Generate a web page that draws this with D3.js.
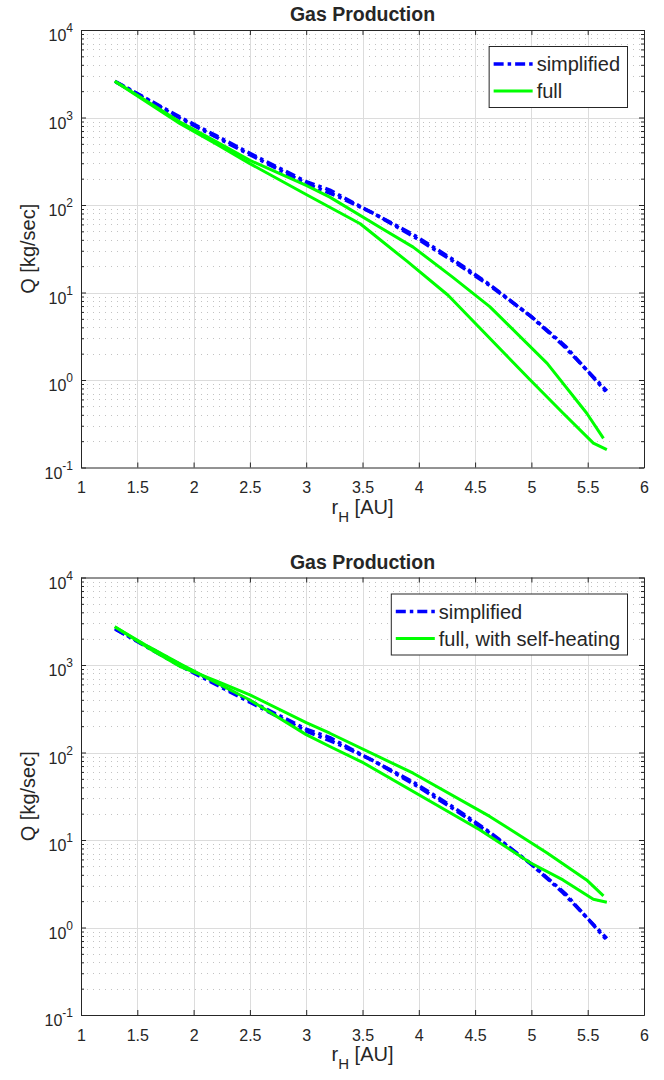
<!DOCTYPE html>
<html><head><meta charset="utf-8">
<script src="https://cdn.jsdelivr.net/npm/d3@7/dist/d3.min.js"></script>
<style>
body{margin:0;background:#fff;}
text{font-family:"Liberation Sans",Arial,Helvetica,sans-serif;fill:#262626;}
</style>
</head><body>
<svg id="chart" width="664" height="1080"></svg>
<script>
// ---------- data ----------
const titleText = "Gas Production";
const xLabelMain = "r", xLabelSub = "H", xLabelTail = " [AU]";
const yLabelText = "Q [kg/sec]";
const xTickValues = [1, 1.5, 2, 2.5, 3, 3.5, 4, 4.5, 5, 5.5, 6];
const xTickLabels = ["1", "1.5", "2", "2.5", "3", "3.5", "4", "4.5", "5", "5.5", "6"];
const yTickExponents = [-1, 0, 1, 2, 3, 4];

// simplified model (two nearly coincident branches), same in both panels
const simpA_r = [1.30, 1.50, 1.88, 2.20, 2.50, 3.00, 3.21, 3.51, 3.95, 4.30, 4.63, 4.99, 5.28, 5.67];
const simpA_Q = [2600, 1880, 1010, 620, 390, 185, 148, 92, 46, 24, 12.3, 5.4, 2.5, 0.75];
const simpB_r = [1.31, 1.88, 2.50, 3.00, 3.30, 3.60, 3.95, 4.30, 4.63, 5.00, 5.30, 5.66];
const simpB_Q = [2550, 980, 375, 176, 122, 80, 44, 23, 12.0, 5.3, 2.45, 0.74];

// top panel: full model
const fullTopUp_r = [1.30, 1.60, 1.88, 2.20, 2.50, 3.00, 3.21, 3.65, 3.95, 4.30, 4.63, 5.14, 5.49, 5.64];
const fullTopUp_Q = [2600, 1490, 885, 530, 324, 168, 123, 56, 33, 15, 6.9, 1.55, 0.42, 0.215];
const fullTopLo_r = [1.30, 1.60, 1.88, 2.20, 2.50, 3.00, 3.48, 3.90, 4.26, 4.99, 5.28, 5.55, 5.67];
const fullTopLo_Q = [2600, 1460, 850, 500, 297, 132, 61, 22.5, 9.3, 1.0, 0.42, 0.19, 0.16];

// bottom panel: full model with self-heating
const fullBotUp_r = [1.30, 1.60, 1.88, 2.20, 2.50, 3.00, 3.21, 3.95, 4.63, 5.14, 5.49, 5.64];
const fullBotUp_Q = [2740, 1560, 960, 660, 456, 220, 166, 58, 18.6, 7.1, 3.5, 2.3];
const fullBotLo_r = [1.30, 1.60, 1.88, 2.20, 2.50, 3.00, 3.21, 3.51, 4.54, 4.99, 5.28, 5.55, 5.67];
const fullBotLo_Q = [2740, 1620, 1030, 630, 398, 160, 117, 76, 13.1, 5.5, 3.5, 2.1, 1.94];

const legendTopLabels = ["simplified", "full"];
const legendBotLabels = ["simplified", "full, with self-heating"];

// ---------- drawing ----------
const svg = d3.select("#chart");
const plotLeft = 81, plotRight = 644;
const BLUE = "#0000ff", GREEN = "#00ff00", AXC = "#262626";
const DASHDOT = "10,4,3.5,4";

const zip = (r, q) => r.map((v, i) => [v, q[i]]);

const panels = [
  { top: 30, bottom: 467.5,
    series: [
      { data: zip(simpA_r, simpA_Q), color: BLUE, dash: DASHDOT },
      { data: zip(simpB_r, simpB_Q), color: BLUE, dash: DASHDOT },
      { data: zip(fullTopUp_r, fullTopUp_Q), color: GREEN, dash: null },
      { data: zip(fullTopLo_r, fullTopLo_Q), color: GREEN, dash: null }
    ],
    legend: legendTopLabels },
  { top: 577.5, bottom: 1015,
    series: [
      { data: zip(simpA_r, simpA_Q), color: BLUE, dash: DASHDOT },
      { data: zip(simpB_r, simpB_Q), color: BLUE, dash: DASHDOT },
      { data: zip(fullBotUp_r, fullBotUp_Q), color: GREEN, dash: null },
      { data: zip(fullBotLo_r, fullBotLo_Q), color: GREEN, dash: null }
    ],
    legend: legendBotLabels }
];

const minorVals = [];
yTickExponents.slice(0, -1).forEach(e => { for (let m = 2; m <= 9; m++) minorVals.push(m * Math.pow(10, e)); });
const decades = yTickExponents.map(e => Math.pow(10, e));

panels.forEach((p, idx) => {
  const x = d3.scaleLinear().domain([1, 6]).range([plotLeft, plotRight]);
  const y = d3.scaleLog().domain([0.1, 10000]).range([p.bottom, p.top]);
  const g = svg.append("g");

  // clip
  const clipId = "clip" + idx;
  g.append("clipPath").attr("id", clipId).append("rect")
    .attr("x", plotLeft).attr("y", p.top).attr("width", plotRight - plotLeft).attr("height", p.bottom - p.top);

  // minor grid (dotted)
  g.append("g").selectAll("line").data(minorVals).join("line")
    .attr("x1", plotLeft).attr("x2", plotRight)
    .attr("y1", d => Math.round(y(d)) + 0.5).attr("y2", d => Math.round(y(d)) + 0.5)
    .attr("stroke", "#c2c2c2").attr("stroke-width", 1).attr("stroke-dasharray", "1,5");

  // major grid
  g.append("g").selectAll("line").data(xTickValues.slice(1, -1)).join("line")
    .attr("x1", d => Math.round(x(d)) + 0.5).attr("x2", d => Math.round(x(d)) + 0.5)
    .attr("y1", p.top).attr("y2", p.bottom)
    .attr("stroke", "#dcdcdc").attr("stroke-width", 1);
  g.append("g").selectAll("line").data(decades.slice(1, -1)).join("line")
    .attr("x1", plotLeft).attr("x2", plotRight)
    .attr("y1", d => Math.round(y(d)) + 0.5).attr("y2", d => Math.round(y(d)) + 0.5)
    .attr("stroke", "#dcdcdc").attr("stroke-width", 1);

  // data lines
  const line = d3.line().x(d => x(d[0])).y(d => y(d[1]));
  const lg = g.append("g").attr("clip-path", `url(#${clipId})`);
  p.series.forEach(s => {
    lg.append("path").datum(s.data).attr("d", line)
      .attr("fill", "none").attr("stroke", s.color)
      .attr("stroke-width", s.dash ? 3.5 : 3)
      .attr("stroke-linejoin", "round")
      .attr("stroke-dasharray", s.dash);
  });

  // axes
  const styleAxis = sel => {
    sel.selectAll("path,line").attr("stroke", AXC).attr("stroke-width", 1);
    sel.selectAll("text").attr("fill", AXC);
  };
  // bottom
  const xb = g.append("g").attr("transform", `translate(0,${p.bottom})`)
    .call(d3.axisBottom(x).tickValues(xTickValues).tickFormat((d, i) => xTickLabels[i]).tickSize(-5).tickSizeOuter(0).tickPadding(0));
  styleAxis(xb);
  xb.selectAll("text").attr("y", 25.5).attr("dy", null).attr("font-size", 16).attr("font-family", null);
  // top
  const xt = g.append("g").attr("transform", `translate(0,${p.top})`)
    .call(d3.axisTop(x).tickValues(xTickValues).tickFormat("").tickSize(-5).tickSizeOuter(0));
  styleAxis(xt);
  // left major
  const yl = g.append("g").attr("transform", `translate(${plotLeft},0)`)
    .call(d3.axisLeft(y).tickValues(decades).tickFormat(() => "").tickSize(-5).tickSizeOuter(0));
  styleAxis(yl);
  yl.selectAll(".tick text").each(function(d) {
    const t = d3.select(this);
    const e = Math.round(Math.log10(d));
    t.text(null).attr("x", -8).attr("y", 10.5).attr("dy", null)
      .attr("text-anchor", "end").attr("font-size", 16).attr("font-family", null);
    t.append("tspan").text("10");
    t.append("tspan").attr("dy", -9).attr("font-size", 12).text(String(e));
  });
  // left minor
  const ylm = g.append("g").attr("transform", `translate(${plotLeft},0)`)
    .call(d3.axisLeft(y).tickValues(minorVals).tickFormat(() => "").tickSize(-3).tickSizeOuter(0));
  styleAxis(ylm);
  // right
  const yr = g.append("g").attr("transform", `translate(${plotRight},0)`)
    .call(d3.axisRight(y).tickValues(decades).tickFormat(() => "").tickSize(-5).tickSizeOuter(0));
  styleAxis(yr);
  const yrm = g.append("g").attr("transform", `translate(${plotRight},0)`)
    .call(d3.axisRight(y).tickValues(minorVals).tickFormat(() => "").tickSize(-3).tickSizeOuter(0));
  styleAxis(yrm);

  // title
  g.append("text").attr("x", (plotLeft + plotRight) / 2).attr("y", p.top - 9)
    .attr("text-anchor", "middle").attr("font-size", 19.5).attr("font-weight", "bold")
    .attr("fill", "#000").text(titleText);

  // x label
  const xl = g.append("text").attr("x", (plotLeft + plotRight) / 2).attr("y", p.bottom + 46)
    .attr("text-anchor", "middle").attr("font-size", 20);
  xl.append("tspan").text(xLabelMain);
  xl.append("tspan").attr("dy", 8).attr("font-size", 15).text(xLabelSub);
  xl.append("tspan").attr("dy", -8).text(xLabelTail);

  // y label
  g.append("text").attr("transform", `translate(28,${(p.top + p.bottom) / 2}) rotate(-90)`)
    .attr("text-anchor", "middle").attr("dy", "0.35em").attr("font-size", 20).text(yLabelText);

  // legend
  const leg = g.append("g");
  const boxRight = plotRight - 17, textEnd = boxRight - 7;
  const rows = [p.top + 34, p.top + 61];
  const texts = p.legend.map((lbl, i) => leg.append("text").attr("y", rows[i] + 7)
    .attr("font-size", 20).attr("fill", "#000").text(lbl));
  const wMax = d3.max(texts, t => t.node().getComputedTextLength());
  const textStart = textEnd - wMax;
  const boxLeft = textStart - 48;
  leg.insert("rect", ":first-child").attr("x", boxLeft + 0.5).attr("y", p.top + 16.5)
    .attr("width", boxRight - boxLeft).attr("height", 61)
    .attr("fill", "#fff").attr("stroke", AXC).attr("stroke-width", 1);
  texts.forEach(t => t.attr("x", textStart));
  const legStyles = [{ color: BLUE, dash: DASHDOT, w: 3.5 }, { color: GREEN, dash: null, w: 3 }];
  legStyles.forEach((s, i) => {
    leg.append("line").attr("x1", boxLeft + 5).attr("x2", boxLeft + 44)
      .attr("y1", rows[i]).attr("y2", rows[i])
      .attr("stroke", s.color).attr("stroke-width", s.w).attr("stroke-dasharray", s.dash);
  });
});
</script>
</body></html>
